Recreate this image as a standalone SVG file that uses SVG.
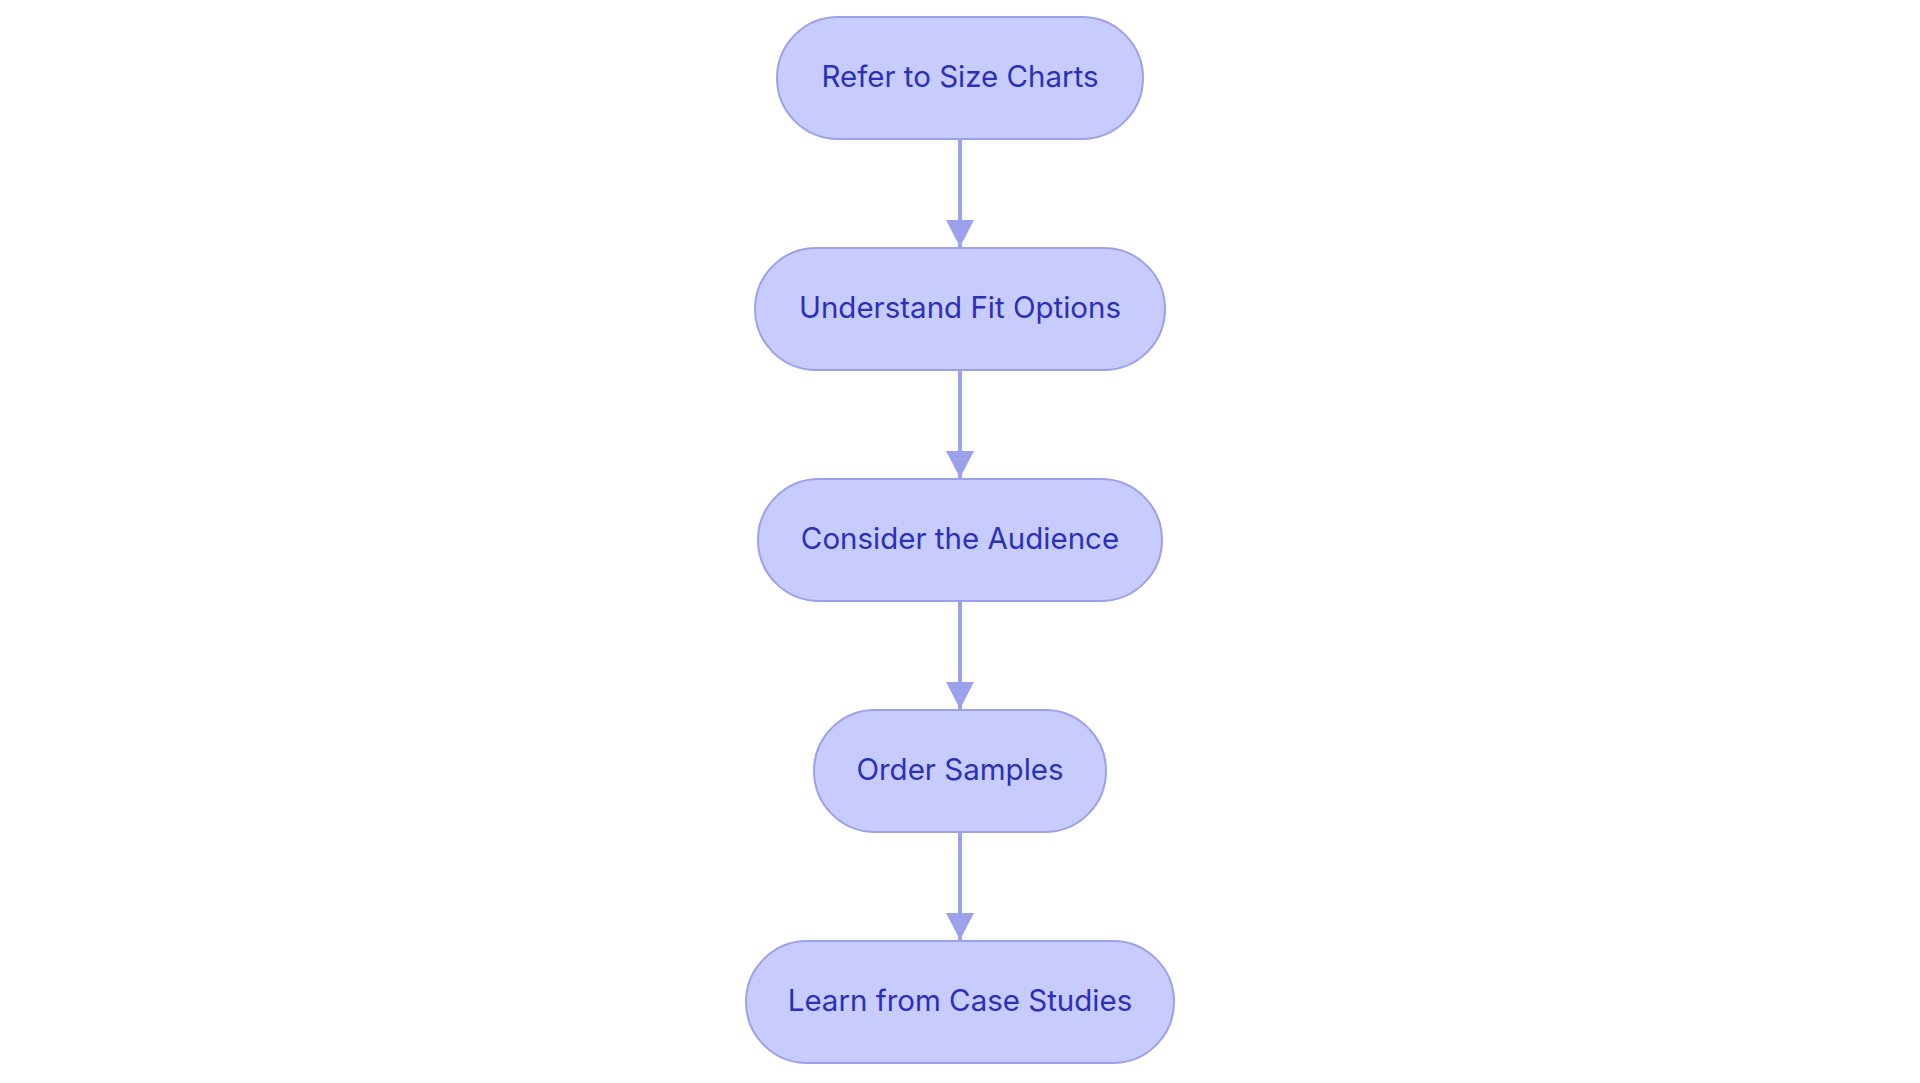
<svg xmlns="http://www.w3.org/2000/svg" width="1920" height="1083" viewBox="0 0 1920 1083">
<style>
.node rect{fill:#c8cbfe;stroke:#9ca1ea;stroke-width:2}
.node text{font-family:Inter,"Noto Sans",sans-serif;font-size:29.5px;fill:#2a31b5;text-anchor:middle}
.edge{stroke:#9ca1ec;stroke-width:4;fill:none}
</style>
<defs>
<marker id="arr" markerWidth="7" markerHeight="7" refX="6.75" refY="3.5" orient="auto" markerUnits="strokeWidth"><path d="M0,0 L6.75,3.5 L0,7 z" fill="#9ca1ec"/></marker>
</defs>
<rect width="1920" height="1083" fill="#ffffff"/>
<g id="connectors">
<line class="edge" x1="960" y1="139" x2="960" y2="247" marker-end="url(#arr)"/>
<line class="edge" x1="960" y1="370" x2="960" y2="478" marker-end="url(#arr)"/>
<line class="edge" x1="960" y1="601" x2="960" y2="709" marker-end="url(#arr)"/>
<line class="edge" x1="960" y1="832" x2="960" y2="940" marker-end="url(#arr)"/>
</g>
<g id="n1" class="node"><rect x="777" y="17" width="366" height="122" rx="61"/><text x="960" y="87">Refer to Size Charts</text></g>
<g id="n2" class="node"><rect x="755" y="248" width="410" height="122" rx="61"/><text x="960" y="318">Understand Fit Options</text></g>
<g id="n3" class="node"><rect x="758" y="479" width="404" height="122" rx="61"/><text x="960" y="549">Consider the Audience</text></g>
<g id="n4" class="node"><rect x="814" y="710" width="292" height="122" rx="61"/><text x="960" y="780">Order Samples</text></g>
<g id="n5" class="node"><rect x="746" y="941" width="428" height="122" rx="61"/><text x="960" y="1011">Learn from Case Studies</text></g>
</svg>
